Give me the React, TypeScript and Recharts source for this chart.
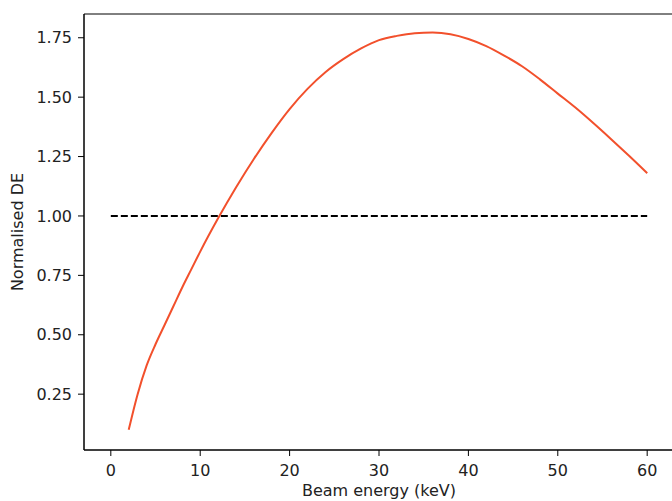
import { LineChart, Line, XAxis, YAxis, ReferenceArea, Label } from "recharts";

const energy = [2, 3, 4, 5, 6, 7, 8, 9, 10, 12, 14, 16, 18, 20, 22, 24, 26, 28, 30, 32, 34, 36, 38, 40, 42, 44, 46, 48, 50, 52, 54, 56, 58, 60];
const normDE = [0.10, 0.25, 0.37, 0.46, 0.54, 0.62, 0.70, 0.775, 0.85, 0.99, 1.12, 1.24, 1.35, 1.45, 1.535, 1.605, 1.66, 1.705, 1.74, 1.758, 1.769, 1.772, 1.765, 1.745, 1.715, 1.675, 1.63, 1.575, 1.515, 1.455, 1.39, 1.322, 1.252, 1.18];
const refEnergy = [0, 60];
const refValue = [1, 1];

const xTicks = [0, 10, 20, 30, 40, 50, 60];
const yTicks = [0.25, 0.5, 0.75, 1.0, 1.25, 1.5, 1.75];

const curve = energy.map((e, i) => ({ e, v: normDE[i] }));
const baseline = refEnergy.map((e, i) => ({ e, v: refValue[i] }));

const font = "'DejaVu Sans', sans-serif";
const tickStyle = { fontSize: 16, fill: "#222", fontFamily: font };

export default function App() {
  return (
    <div style={{ position: "absolute", left: 0, top: 0, width: 672, height: 501, overflow: "hidden", background: "#fff" }}>
      <LineChart width={680} height={501} margin={{ top: 14, right: 6, bottom: 0, left: 0 }}>
        <XAxis
          type="number"
          dataKey="e"
          domain={[-3, 63]}
          ticks={xTicks}
          allowDataOverflow
          stroke="#000"
          tickSize={6}
          tickMargin={9}
          tick={tickStyle}
          height={51}
        >
          <Label value="Beam energy (keV)" position="insideBottom" offset={5} style={{ ...tickStyle, textAnchor: "middle" }} />
        </XAxis>
        <YAxis
          type="number"
          domain={[0.015, 1.85]}
          ticks={yTicks}
          allowDataOverflow
          tickFormatter={(v: number) => v.toFixed(2)}
          stroke="#000"
          tickSize={6}
          tickMargin={6}
          tick={tickStyle}
          width={84}
        >
          <Label value="Normalised DE" angle={-90} position="insideLeft" offset={17} style={{ ...tickStyle, textAnchor: "middle" }} />
        </YAxis>
        <ReferenceArea x1={-3} x2={63} y1={0.015} y2={1.85} fill="none" stroke="#000" strokeWidth={1} ifOverflow="visible" />
        <Line data={baseline} dataKey="v" stroke="#000" strokeWidth={2} strokeDasharray="7 3" dot={false} isAnimationActive={false} />
        <Line data={curve} dataKey="v" type="monotone" stroke="#f2502c" strokeWidth={2} dot={false} isAnimationActive={false} />
      </LineChart>
    </div>
  );
}
